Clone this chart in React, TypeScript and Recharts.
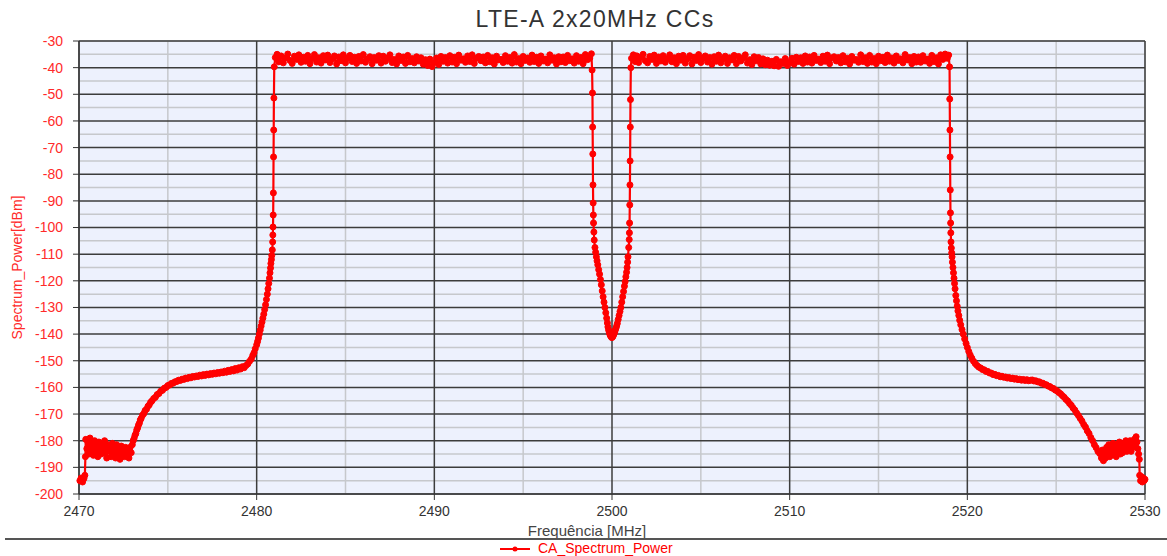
import { LineChart, Line, XAxis, YAxis, CartesianGrid } from 'recharts'

type Pt = [number, number]

// [frequency MHz, power dBm]
const leftFloor: Pt[] = [
  [2470.05, -195], [2470.12, -194], [2470.2, -195.5], [2470.28, -194.2], [2470.33, -193],
  [2470.36, -186], [2470.38, -179.5], [2470.44, -183], [2470.5, -180.5], [2470.56, -185],
  [2470.62, -179], [2470.69, -183.5], [2470.75, -181], [2470.81, -185.5], [2470.88, -180],
  [2470.94, -184], [2471.0, -181.5], [2471.06, -186], [2471.12, -180.5], [2471.19, -183],
  [2471.25, -185], [2471.31, -181], [2471.38, -184.5], [2471.44, -180], [2471.5, -183.5],
  [2471.56, -186.5], [2471.62, -181.5], [2471.69, -184], [2471.75, -182], [2471.81, -186],
  [2471.88, -181], [2471.94, -184.5], [2472.0, -182.5], [2472.06, -186.5], [2472.12, -181.5],
  [2472.19, -185], [2472.25, -183], [2472.31, -187], [2472.38, -182], [2472.44, -185.5],
  [2472.5, -183], [2472.56, -186], [2472.62, -182.5], [2472.69, -185], [2472.75, -183.5],
  [2472.81, -186.5], [2472.88, -182.5], [2472.94, -184.5],
]

const leftSkirt: Pt[] = [
  [2473.0, -181.5], [2473.05, -180], [2473.1, -179.2], [2473.15, -178], [2473.2, -177.3],
  [2473.25, -176], [2473.3, -175.2], [2473.35, -174.1], [2473.4, -173.4], [2473.45, -172.2],
  [2473.5, -171.6], [2473.58, -170.4], [2473.65, -169.8], [2473.72, -168.7], [2473.8, -168.2],
  [2473.88, -167.1], [2473.95, -166.6], [2474.03, -165.6], [2474.1, -165.1], [2474.2, -164.2],
  [2474.3, -163.7], [2474.4, -162.7], [2474.5, -162.3], [2474.6, -161.4], [2474.7, -161.1],
  [2474.8, -160.3], [2474.9, -160], [2475.0, -159.3], [2475.1, -159.1], [2475.2, -158.5],
  [2475.3, -158.4], [2475.4, -157.9], [2475.5, -157.8], [2475.6, -157.3], [2475.7, -157.4],
  [2475.8, -156.9], [2475.9, -157], [2476.0, -156.5], [2476.1, -156.7], [2476.2, -156.2],
  [2476.3, -156.4], [2476.4, -155.9], [2476.5, -156.1], [2476.6, -155.7], [2476.7, -155.9],
  [2476.8, -155.4], [2476.9, -155.7], [2477.0, -155.2], [2477.1, -155.5], [2477.2, -155],
  [2477.3, -155.3], [2477.4, -154.8], [2477.5, -155.1], [2477.6, -154.6], [2477.7, -154.9],
  [2477.8, -154.4], [2477.9, -154.7], [2478.0, -154.2], [2478.1, -154.5], [2478.2, -153.9],
  [2478.3, -154.3], [2478.4, -153.6], [2478.5, -154], [2478.6, -153.3], [2478.7, -153.8],
  [2478.8, -152.9], [2478.9, -153.5], [2479.0, -152.6], [2479.1, -153.1], [2479.2, -152.2],
  [2479.3, -152.6],
]

const leftEdge: Pt[] = [
  [2479.4, -151.8], [2479.5, -151.2], [2479.6, -150.2], [2479.7, -149.3], [2479.78, -148],
  [2479.85, -147], [2479.92, -145.5], [2480.0, -144], [2480.05, -142.8], [2480.1, -141.5],
  [2480.15, -140], [2480.2, -138.5], [2480.25, -137], [2480.3, -135.5], [2480.35, -134],
  [2480.4, -132.5], [2480.45, -130.8], [2480.5, -129], [2480.55, -127], [2480.6, -125],
  [2480.64, -123], [2480.68, -121], [2480.72, -119], [2480.75, -117], [2480.78, -115.2],
  [2480.8, -113.5], [2480.83, -112], [2480.85, -110.5], [2480.88, -108.4], [2480.9, -105.4],
  [2480.91, -102.8], [2480.92, -99.8], [2480.93, -95.3], [2480.94, -87], [2480.95, -73.5],
  [2480.96, -63.4], [2480.97, -51.4], [2480.99, -39.7],
]

const cc1Top: Pt[] = [
  [2481.05, -36.2], [2481.15, -35], [2481.25, -37.8], [2481.375, -35.6], [2481.5, -38.2], [2481.625, -36.4], [2481.75, -34.9], [2481.875, -37.3],
  [2482.0, -38.4], [2482.125, -35.7], [2482.25, -36.9], [2482.375, -35.2], [2482.5, -38], [2482.625, -36.1], [2482.75, -37.6], [2482.875, -35.4],
  [2483.0, -38.5], [2483.125, -36.6], [2483.25, -35.1], [2483.375, -37.9], [2483.5, -36.3], [2483.625, -38.3], [2483.75, -35.5], [2483.875, -37.1],
  [2484.0, -35.3], [2484.125, -38.1], [2484.25, -36.8], [2484.375, -35.6], [2484.5, -38.6], [2484.625, -36], [2484.75, -37.4], [2484.875, -35.2],
  [2485.0, -38.2], [2485.125, -36.5], [2485.25, -35.4], [2485.375, -37.7], [2485.5, -36.1], [2485.625, -38.4], [2485.75, -35.8], [2485.875, -37.5],
  [2486.0, -35.1], [2486.125, -38], [2486.25, -36.7], [2486.375, -35.9], [2486.5, -38.5], [2486.625, -36.2], [2486.75, -37.2], [2486.875, -35.5],
  [2487.0, -38.3], [2487.125, -35.7], [2487.25, -37.6], [2487.375, -36.4], [2487.5, -35.2], [2487.625, -38.1], [2487.75, -36.9], [2487.875, -38.6],
  [2488.0, -35.6], [2488.125, -37.3], [2488.25, -36], [2488.375, -38.4], [2488.5, -35.4], [2488.625, -37.8], [2488.75, -36.6], [2488.875, -38.2],
  [2489.0, -35.9], [2489.125, -37.5], [2489.25, -36.3], [2489.375, -38.7], [2489.5, -37], [2489.625, -39.2], [2489.75, -36.8], [2489.875, -39.6],
  [2490.0, -38.1], [2490.125, -36.4], [2490.25, -38.8], [2490.375, -35.8], [2490.5, -37.6], [2490.625, -36.2], [2490.75, -38.3], [2490.875, -35.5],
  [2491.0, -37.9], [2491.125, -36.1], [2491.25, -38.5], [2491.375, -35.3], [2491.5, -37.2], [2491.625, -36.7], [2491.75, -38], [2491.875, -35.6],
  [2492.0, -37.7], [2492.125, -35.2], [2492.25, -38.4], [2492.375, -36.5], [2492.5, -35.8], [2492.625, -37.4], [2492.75, -36], [2492.875, -38.2],
  [2493.0, -35.4], [2493.125, -37.8], [2493.25, -36.3], [2493.375, -38.6], [2493.5, -35.7], [2493.625, -37.1], [2493.75, -36.9], [2493.875, -38.1],
  [2494.0, -35.5], [2494.125, -37.6], [2494.25, -36.2], [2494.375, -38.3], [2494.5, -35.1], [2494.625, -37.9], [2494.75, -36.6], [2494.875, -38.5],
  [2495.0, -35.8], [2495.125, -37.3], [2495.25, -36.4], [2495.375, -38], [2495.5, -35.3], [2495.625, -37.7], [2495.75, -36.1], [2495.875, -38.4],
  [2496.0, -35.6], [2496.125, -37.5], [2496.25, -36.8], [2496.375, -38.2], [2496.5, -35.2], [2496.625, -37.2], [2496.75, -36.3], [2496.875, -38.6],
  [2497.0, -35.9], [2497.125, -37.8], [2497.25, -36], [2497.375, -38.1], [2497.5, -35.4], [2497.625, -37.4], [2497.75, -36.7], [2497.875, -38.3],
  [2498.0, -35.5], [2498.125, -37.6], [2498.25, -36.2], [2498.375, -38.5], [2498.5, -35.1], [2498.625, -37], [2498.75, -36.4], [2498.84, -34.8],
]

const centerNotch: Pt[] = [
  [2498.88, -40.9], [2498.9, -49.5], [2498.91, -62.3], [2498.92, -72.4], [2498.93, -84],
  [2498.94, -90.8], [2498.95, -95.3], [2498.96, -98.3], [2498.98, -101.7], [2499.0, -104.7],
  [2499.04, -107.5], [2499.08, -109.3], [2499.12, -111], [2499.16, -112.5], [2499.2, -114],
  [2499.25, -115.8], [2499.3, -117.5], [2499.35, -119.5], [2499.4, -121.5], [2499.45, -123.8],
  [2499.5, -126], [2499.55, -128], [2499.6, -130], [2499.65, -132], [2499.7, -134],
  [2499.74, -135.8], [2499.77, -137.3], [2499.81, -138.5], [2499.85, -139.5], [2499.89, -140.3],
  [2499.93, -140.8], [2499.97, -141.2], [2500.0, -141.3], [2500.04, -141], [2500.07, -140.6],
  [2500.11, -140], [2500.15, -139.3], [2500.18, -138.6], [2500.22, -137.8], [2500.26, -137],
  [2500.3, -136], [2500.35, -134.5], [2500.4, -133], [2500.45, -131.5], [2500.5, -130],
  [2500.55, -128], [2500.6, -126], [2500.65, -124], [2500.7, -122], [2500.74, -120.3],
  [2500.78, -118.5], [2500.82, -116.8], [2500.85, -115], [2500.88, -113], [2500.9, -111],
  [2500.94, -107.5], [2500.97, -104.5], [2500.98, -102], [2500.99, -98.3], [2501.0, -91.5],
  [2501.01, -84], [2501.02, -75], [2501.03, -62.3], [2501.04, -52], [2501.06, -40],
]

const cc2Top: Pt[] = [
  [2501.1, -36.5], [2501.2, -35.2], [2501.3, -37.7], [2501.4, -35.6], [2501.5, -38.1], [2501.625, -36.2], [2501.75, -35], [2501.875, -37.4],
  [2502.0, -38.2], [2502.125, -35.8], [2502.25, -36.9], [2502.375, -35.3], [2502.5, -38.4], [2502.625, -36], [2502.75, -37.5], [2502.875, -35.5],
  [2503.0, -38], [2503.125, -36.6], [2503.25, -35.2], [2503.375, -37.8], [2503.5, -36.3], [2503.625, -38.5], [2503.75, -35.7], [2503.875, -37.2],
  [2504.0, -35.4], [2504.125, -38.3], [2504.25, -36.7], [2504.375, -35.5], [2504.5, -38.6], [2504.625, -36.1], [2504.75, -37.3], [2504.875, -35.1],
  [2505.0, -38.1], [2505.125, -36.4], [2505.25, -35.6], [2505.375, -37.9], [2505.5, -36.2], [2505.625, -38.7], [2505.75, -35.9], [2505.875, -37.6],
  [2506.0, -35.3], [2506.125, -38.2], [2506.25, -36.8], [2506.375, -35.7], [2506.5, -38.4], [2506.625, -36.3], [2506.75, -37.1], [2506.875, -35.4],
  [2507.0, -38.5], [2507.125, -35.8], [2507.25, -37.5], [2507.375, -36.5], [2507.5, -35.2], [2507.625, -38.3], [2507.75, -37], [2507.875, -38.8],
  [2508.0, -35.9], [2508.125, -37.4], [2508.25, -36.2], [2508.375, -38.6], [2508.5, -36.7], [2508.625, -38.9], [2508.75, -37.2], [2508.875, -39.1],
  [2509.0, -37.6], [2509.125, -39.3], [2509.25, -36.9], [2509.375, -39.5], [2509.5, -37.8], [2509.625, -38.4], [2509.75, -36.6], [2509.875, -39.2],
  [2510.0, -38], [2510.125, -36.5], [2510.25, -38.7], [2510.375, -36.1], [2510.5, -37.7], [2510.625, -36.3], [2510.75, -38.4], [2510.875, -35.6],
  [2511.0, -37.9], [2511.125, -36], [2511.25, -38.3], [2511.375, -35.4], [2511.5, -37.3], [2511.625, -36.8], [2511.75, -38.1], [2511.875, -35.7],
  [2512.0, -37.6], [2512.125, -35.3], [2512.25, -38.5], [2512.375, -36.4], [2512.5, -35.9], [2512.625, -37.5], [2512.75, -36.2], [2512.875, -38.2],
  [2513.0, -35.5], [2513.125, -37.8], [2513.25, -36.5], [2513.375, -38.6], [2513.5, -35.8], [2513.625, -37.2], [2513.75, -36.9], [2513.875, -38],
  [2514.0, -35.2], [2514.125, -37.7], [2514.25, -36.3], [2514.375, -38.4], [2514.5, -35.4], [2514.625, -37.9], [2514.75, -36.6], [2514.875, -38.5],
  [2515.0, -35.7], [2515.125, -37.4], [2515.25, -36.1], [2515.375, -38.1], [2515.5, -35.3], [2515.625, -37.6], [2515.75, -36.4], [2515.875, -38.3],
  [2516.0, -35.6], [2516.125, -37.3], [2516.25, -36.7], [2516.375, -38.2], [2516.5, -35.1], [2516.625, -37.1], [2516.75, -36.2], [2516.875, -38.5],
  [2517.0, -35.8], [2517.125, -37.9], [2517.25, -36], [2517.375, -38], [2517.5, -35.5], [2517.625, -37.5], [2517.75, -36.8], [2517.875, -38.4],
  [2518.0, -35.4], [2518.125, -37.7], [2518.25, -36.3], [2518.375, -38.6], [2518.5, -35.2], [2518.625, -36.9], [2518.75, -34.9], [2518.875, -36.5],
  [2518.95, -35.3],
]

const rightEdge: Pt[] = [
  [2519.0, -39.7], [2519.01, -51.8], [2519.02, -63.4], [2519.03, -73.5], [2519.04, -85.9],
  [2519.05, -94.5], [2519.06, -98.3], [2519.07, -102], [2519.08, -105.4], [2519.1, -107.7],
  [2519.12, -109.5], [2519.14, -111], [2519.16, -113], [2519.19, -115], [2519.22, -117],
  [2519.25, -119], [2519.28, -121], [2519.31, -123], [2519.35, -125.5], [2519.39, -127.5],
  [2519.43, -129.5], [2519.47, -131.3], [2519.52, -133], [2519.57, -134.8], [2519.63, -136.5],
  [2519.7, -138.3], [2519.77, -140], [2519.85, -141.8], [2519.93, -143.5], [2520.0, -145],
  [2520.08, -146.5], [2520.16, -147.8], [2520.25, -149], [2520.35, -150.2], [2520.45, -151.1],
  [2520.55, -151.8],
]

const rightSkirt: Pt[] = [
  [2520.65, -152.4], [2520.75, -152.7], [2520.85, -153.3], [2520.95, -153.4], [2521.05, -154],
  [2521.15, -154], [2521.25, -154.6], [2521.35, -154.6], [2521.45, -155.2], [2521.55, -155.1],
  [2521.65, -155.6], [2521.75, -155.5], [2521.85, -156], [2521.95, -155.8], [2522.05, -156.2],
  [2522.15, -156.1], [2522.25, -156.5], [2522.35, -156.3], [2522.45, -156.7], [2522.55, -156.5],
  [2522.65, -156.9], [2522.75, -156.7], [2522.85, -157.1], [2522.95, -156.9], [2523.05, -157.3],
  [2523.15, -157], [2523.25, -157.4], [2523.35, -157.1], [2523.45, -157.5], [2523.55, -157.3],
  [2523.65, -157.2], [2523.75, -157.6], [2523.85, -157.5], [2523.95, -157.9], [2524.05, -157.9],
  [2524.15, -158.4], [2524.25, -158.4], [2524.35, -158.9], [2524.45, -159], [2524.55, -159.5],
  [2524.65, -159.7], [2524.75, -160.2], [2524.85, -160.4], [2524.95, -161], [2525.05, -161.3],
  [2525.15, -161.9], [2525.25, -162.4], [2525.35, -163.1], [2525.45, -163.7], [2525.55, -164.5],
  [2525.65, -165.1], [2525.75, -166], [2525.85, -166.7], [2525.95, -167.7], [2526.05, -168.5],
  [2526.15, -169.6], [2526.25, -170.5], [2526.35, -171.6], [2526.45, -172.6], [2526.55, -173.9],
  [2526.65, -174.9], [2526.75, -176.3], [2526.85, -177.3], [2526.95, -178.8], [2527.05, -180],
  [2527.15, -181.5], [2527.25, -182.6], [2527.35, -184], [2527.45, -184.8],
]

const rightFloor: Pt[] = [
  [2527.55, -186.5], [2527.6, -183.5], [2527.66, -187.5], [2527.72, -184], [2527.78, -186.5],
  [2527.84, -182.5], [2527.9, -185.5], [2527.96, -181.5], [2528.02, -186], [2528.08, -183],
  [2528.14, -185], [2528.2, -181], [2528.26, -184.5], [2528.32, -182], [2528.38, -186],
  [2528.44, -181.5], [2528.5, -184], [2528.56, -180.5], [2528.62, -185], [2528.68, -182],
  [2528.74, -184.5], [2528.8, -181], [2528.86, -183.5], [2528.92, -180], [2528.98, -184],
  [2529.04, -181.5], [2529.1, -183], [2529.16, -180], [2529.22, -184], [2529.28, -181],
  [2529.34, -182.5], [2529.4, -179.5], [2529.46, -181.5], [2529.5, -178.5], [2529.55, -180.5],
  [2529.6, -183], [2529.64, -185], [2529.68, -187], [2529.7, -193], [2529.75, -195],
  [2529.8, -193.5], [2529.85, -195.5], [2529.9, -194], [2529.95, -195], [2530.0, -194.5],
]

const xMajorTicks = [2470, 2480, 2490, 2500, 2510, 2520, 2530]
const xMinorTicks = [2475, 2485, 2495, 2505, 2515, 2525]
const yMajorTicks = [-30, -40, -50, -60, -70, -80, -90, -100, -110, -120, -130, -140, -150, -160, -170, -180, -190, -200]
const yMinorTicks = [-35, -45, -55, -65, -75, -85, -95, -105, -115, -125, -135, -145, -155, -165, -175, -185, -195]

const data = [leftFloor, leftSkirt, leftEdge, cc1Top, centerNotch, cc2Top, rightEdge, rightSkirt, rightFloor]
  .flat()
  .map(([freq, power]) => ({ freq, power }))

const RED = '#ff0000'
const FONT = '"Liberation Sans", Arial, sans-serif'

export default function App() {
  return (
    <div style={{ position: 'relative', width: 1167, height: 556, fontFamily: FONT, background: '#fff' }}>
      <style>{'body{margin:0}'}</style>
      <div
        style={{
          position: 'absolute',
          top: 6,
          left: 0,
          width: 1190,
          textAlign: 'center',
          fontSize: 23,
          letterSpacing: 1.3,
          color: '#333',
        }}
      >
        LTE-A 2x20MHz CCs
      </div>
      <LineChart
        width={1167}
        height={556}
        data={data}
        margin={{ top: 41, right: 22, bottom: 18, left: 0 }}
        style={{ fontFamily: FONT }}
      >
        {/* minor grid follows two hidden axes that only carry the 5-step ticks */}
        <CartesianGrid fill="#edf1fd" stroke="#c6c8cc" strokeWidth={1.5} xAxisId="minor" yAxisId="minor" />
        <CartesianGrid stroke="#3c3c3c" strokeWidth={1.5} />
        <XAxis xAxisId="minor" dataKey="freq" type="number" domain={[2470, 2530]} ticks={xMinorTicks} hide />
        <YAxis yAxisId="minor" dataKey="power" type="number" domain={[-200, -30]} ticks={yMinorTicks} hide />
        <XAxis
          dataKey="freq"
          type="number"
          domain={[2470, 2530]}
          ticks={xMajorTicks}
          interval={0}
          height={44}
          tickSize={6}
          tickMargin={6}
          stroke="#333"
          tick={{ fill: '#333', fontSize: 14 }}
          label={{ value: 'Frequência [MHz]', position: 'insideBottom', offset: 2, dx: -25, fill: '#444', fontSize: 15 }}
        />
        <YAxis
          type="number"
          domain={[-200, -30]}
          ticks={yMajorTicks}
          interval={0}
          width={79}
          tickSize={6}
          tickMargin={10}
          stroke="#333"
          tick={{ fill: '#ff2a2a', fontSize: 14 }}
          label={{
            value: 'Spectrum_Power[dBm]',
            angle: -90,
            position: 'insideLeft',
            offset: 22,
            dx: -5,
            fill: '#ff2a2a',
            fontSize: 14,
            style: { textAnchor: 'middle' },
          }}
        />
        <Line
          type="linear"
          dataKey="power"
          stroke={RED}
          strokeWidth={2.2}
          dot={{ r: 3, fill: RED, stroke: RED, strokeWidth: 1 }}
          isAnimationActive={false}
        />
      </LineChart>
      <div style={{ position: 'absolute', top: 538, left: 5, right: 0, height: 2, background: '#555' }} />
      <div
        style={{
          position: 'absolute',
          top: 541,
          left: 500,
          display: 'flex',
          alignItems: 'center',
          gap: 8,
          fontSize: 14,
          lineHeight: '15px',
          color: RED,
        }}
      >
        <svg width={30} height={15}>
          <line x1={0} y1={8} x2={30} y2={8} stroke={RED} strokeWidth={2} />
          <circle cx={15} cy={8} r={2.5} fill={RED} />
        </svg>
        <span>CA_Spectrum_Power</span>
      </div>
    </div>
  )
}
